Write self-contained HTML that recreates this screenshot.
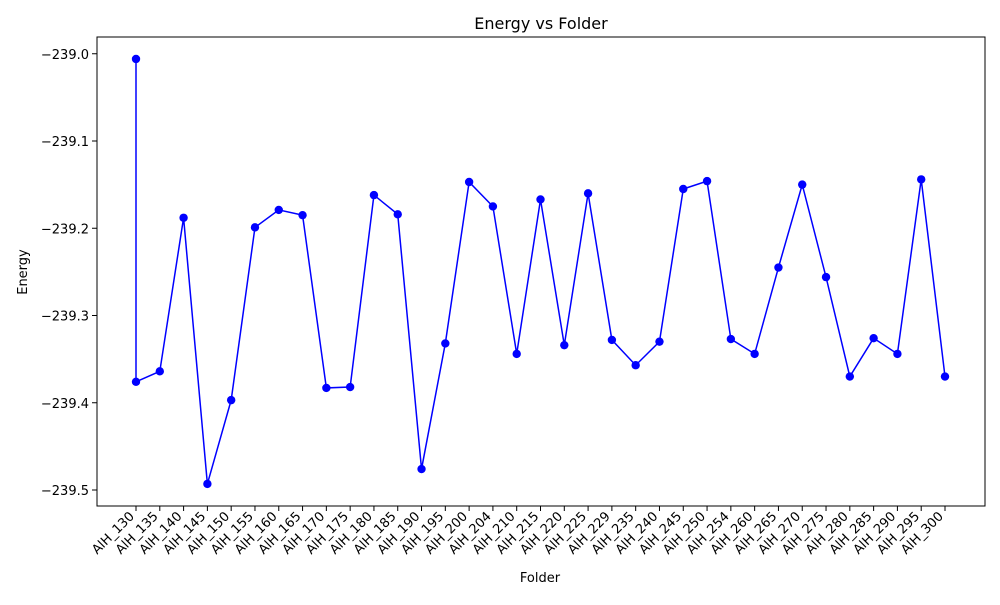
<!DOCTYPE html>
<html><head><meta charset="utf-8"><style>
body{margin:0;background:#fff;}
svg{font-family:"DejaVu Sans","Liberation Sans",sans-serif;}
</style></head><body>
<svg id="c" width="1000" height="600">
<rect x="97" y="37" width="888" height="469" fill="none" stroke="#000" stroke-width="1"/>
<text x="541" y="29" font-size="16" text-anchor="middle">Energy vs Folder</text>
<text x="540" y="582" font-size="13" text-anchor="middle">Folder</text>
<text x="27" y="272" font-size="13" text-anchor="middle" transform="rotate(-90 27 272)">Energy</text>
<g id="axes"></g>
<g id="marks"></g>
</svg>
<script>
const categories = ["AlH_130","AlH_135","AlH_140","AlH_145","AlH_150","AlH_155","AlH_160","AlH_165","AlH_170","AlH_175","AlH_180","AlH_185","AlH_190","AlH_195","AlH_200","AlH_204","AlH_210","AlH_215","AlH_220","AlH_225","AlH_229","AlH_235","AlH_240","AlH_245","AlH_250","AlH_254","AlH_260","AlH_265","AlH_270","AlH_275","AlH_280","AlH_285","AlH_290","AlH_295","AlH_300"];
const pointFolders = ["AlH_130","AlH_130","AlH_135","AlH_140","AlH_145","AlH_150","AlH_155","AlH_160","AlH_165","AlH_170","AlH_175","AlH_180","AlH_185","AlH_190","AlH_195","AlH_200","AlH_204","AlH_210","AlH_215","AlH_220","AlH_225","AlH_229","AlH_235","AlH_240","AlH_245","AlH_250","AlH_254","AlH_260","AlH_265","AlH_270","AlH_275","AlH_280","AlH_285","AlH_290","AlH_295","AlH_300"];
const energies = [-239.006,-239.376,-239.364,-239.188,-239.493,-239.397,-239.199,-239.179,-239.185,-239.383,-239.382,-239.162,-239.184,-239.476,-239.332,-239.147,-239.175,-239.344,-239.167,-239.334,-239.160,-239.328,-239.357,-239.330,-239.155,-239.146,-239.327,-239.344,-239.245,-239.150,-239.256,-239.370,-239.326,-239.344,-239.144,-239.370];
const yTicks = [-239.0,-239.1,-239.2,-239.3,-239.4,-239.5];
const yTickLabels = ["\u2212239.0","\u2212239.1","\u2212239.2","\u2212239.3","\u2212239.4","\u2212239.5"];

const NS="http://www.w3.org/2000/svg";
const xScale = i => 136 + i*(945-136)/(categories.length-1);
const yScale = v => 490 + (v - (-239.5)) * (490-141)/0.4 * -1;
const axes=document.getElementById('axes'), marks=document.getElementById('marks');
function mk(tag,attrs,parent){const e=document.createElementNS(NS,tag);for(const k in attrs)e.setAttribute(k,attrs[k]);parent.appendChild(e);return e;}

yTicks.forEach((t,i)=>{
  const y=yScale(t);
  const l=mk('line',{x1:92,x2:97,y1:y,y2:y,stroke:'#000'},axes);
  
  
  const tx=mk('text',{x:89,y:y+5,'font-size':13,'text-anchor':'end'},axes);
  tx.textContent=yTickLabels[i];
  
  
});
categories.forEach((c,i)=>{
  const x=xScale(i);
  const l=mk('line',{x1:x,x2:x,y1:506,y2:511,stroke:'#000'},axes);
  
  
  const tx=mk('text',{x:x-1,y:517,'font-size':13,'text-anchor':'end',transform:`rotate(-45 ${x-1} 517)`},axes);
  tx.textContent=c;
  
  
});
const pts=energies.map((v,i)=>[xScale(categories.indexOf(pointFolders[i])),yScale(v)]);
const line=mk('polyline',{points:pts.map(p=>p.join(',')).join(' '),fill:'none',stroke:'#0000ff','stroke-width':1.5},marks);


pts.forEach(p=>{
  const c=mk('circle',{cx:p[0],cy:p[1],r:4.2,fill:'#0000ff'},marks);
  
  
});
</script>
</body></html>
